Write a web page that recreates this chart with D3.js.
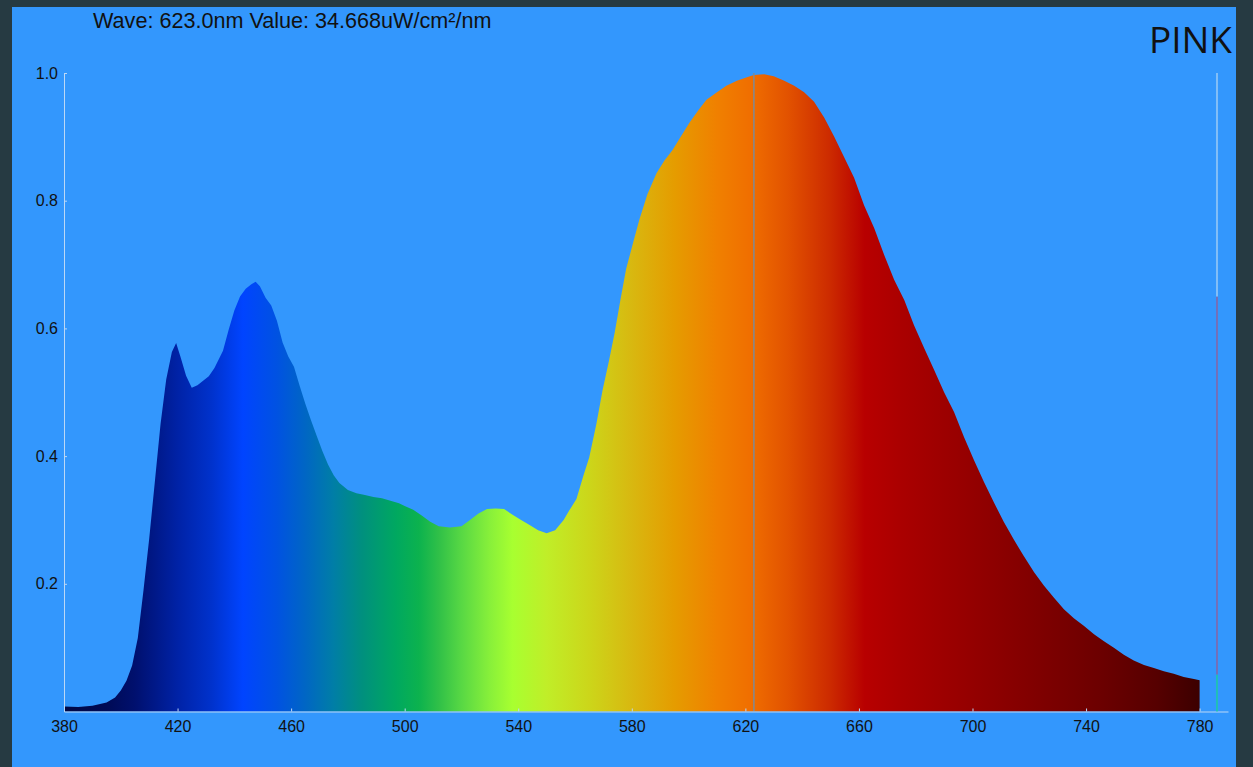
<!DOCTYPE html>
<html>
<head>
<meta charset="utf-8">
<script src="https://cdn.jsdelivr.net/npm/d3@7"></script>
<style>
  html, body { margin: 0; padding: 0; background: #263a42; }
  svg { display: block; }
  .axis text { font-family: "Liberation Sans", Arial, sans-serif; font-size: 16px; fill: #111; }
  .axis path, .axis line { stroke: #bcd8f6; }
</style>
</head>
<body>
<div id="chart"></div>
<script>
// spectrum readings (relative power vs wavelength)
var waveNm = [380, 385, 390, 395, 398, 400, 402, 404, 406, 408, 410, 412, 414, 416, 418, 419.5,
    421, 423, 425, 427, 429, 431, 433, 436, 438, 440, 442, 444, 446, 447.5, 449, 451, 453, 455,
    457, 459, 461, 463, 465, 467, 469, 471, 473, 475, 477, 480, 483, 486, 489, 492, 495, 498,
    500, 503, 506, 509, 512, 516, 520, 523, 526, 529, 532, 535, 538, 541, 544, 547, 550, 553,
    556, 558, 560.5, 563, 565, 567.5, 569.7, 572, 574, 576, 578, 580.5, 582.7, 585.5, 588.7,
    591.5, 594.3, 597.5, 600.3, 603.5, 606.3, 610, 613.3, 617, 620.3, 623, 626.6, 630, 633.7,
    637.2, 640.7, 644.2, 647.8, 651.3, 654.8, 658.3, 661.8, 665.4, 668.9, 672.4, 676, 679.4,
    683, 686.5, 690, 693.5, 697, 700.5, 704, 707.6, 711, 714.6, 718, 721.7, 725.2, 728.7,
    732.2, 735.7, 739.3, 742.8, 746.3, 749.8, 753.3, 756.8, 760.4, 763.9, 767.4, 770.9, 774.4,
    778, 780];
var relValue = [0.008, 0.007, 0.009, 0.014, 0.022, 0.033, 0.048, 0.072, 0.115, 0.19, 0.27, 0.36,
    0.45, 0.52, 0.563, 0.577, 0.556, 0.526, 0.507, 0.511, 0.518, 0.525, 0.538, 0.565, 0.598,
    0.628, 0.65, 0.662, 0.669, 0.673, 0.666, 0.648, 0.636, 0.612, 0.578, 0.556, 0.54, 0.51,
    0.482, 0.456, 0.432, 0.408, 0.387, 0.37, 0.358, 0.347, 0.342, 0.339, 0.336, 0.334, 0.33,
    0.326, 0.322, 0.316, 0.307, 0.297, 0.29, 0.288, 0.29, 0.3, 0.31, 0.317, 0.318, 0.317, 0.308,
    0.3, 0.292, 0.284, 0.279, 0.284, 0.3, 0.315, 0.333, 0.37, 0.398, 0.45, 0.503, 0.55, 0.594,
    0.645, 0.693, 0.735, 0.771, 0.81, 0.843, 0.863, 0.879, 0.902, 0.922, 0.942, 0.958, 0.97,
    0.98, 0.988, 0.993, 0.997, 0.998, 0.995, 0.988, 0.98, 0.97, 0.955, 0.93, 0.9, 0.868, 0.836,
    0.793, 0.757, 0.715, 0.676, 0.644, 0.605, 0.569, 0.535, 0.5, 0.469, 0.43, 0.394, 0.36,
    0.327, 0.297, 0.269, 0.244, 0.218, 0.197, 0.178, 0.16, 0.146, 0.134, 0.121, 0.11, 0.1,
    0.089, 0.08, 0.073, 0.068, 0.063, 0.059, 0.054, 0.051, 0.049];

var xTicks = [380, 420, 460, 500, 540, 580, 620, 660, 700, 740, 780];
var yTicks = [0.2, 0.4, 0.6, 0.8, 1.0];

var cursorWave = 623.0;
var cursorText = "Wave: 623.0nm Value: 34.668uW/cm\u00b2/nm";
var sampleName = "PINK";

// side gauge levels (bottom, split, split, top)
var gaugeLevels = [0, 0.058, 0.65, 1.0];

// colour of the fill along the wavelength axis
var stopNm = [380, 395, 405, 420, 432, 443, 455, 465, 475, 485, 497, 505, 512, 520, 530, 538,
    550, 565, 580, 595, 610, 622, 635, 650, 662, 675, 700, 720, 745, 765, 780];
var stopColor = ["#000844", "#000a55", "#00106e", "#0022a6", "#0032cc", "#0044ff", "#0052e2",
    "#0066c4", "#007ea6", "#00907e", "#00a860", "#0cb24e", "#30c048", "#58d844", "#88f03a",
    "#a8ff30", "#c0ee28", "#ccd61a", "#d8b810", "#e59c00", "#f08000", "#f06e00", "#e25200",
    "#cc2a00", "#b80000", "#aa0000", "#940000", "#820000", "#6c0000", "#560000", "#3c0000"];

var W = 1253, H = 767;

var svg = d3.select("#chart").append("svg")
    .attr("width", W)
    .attr("height", H);

svg.append("rect")
    .attr("x", 12).attr("y", 7)
    .attr("width", 1224).attr("height", H - 7)
    .attr("fill", "#3397fd");

var x = d3.scaleLinear().domain([380, 790]).range([64, 1228]),
    y = d3.scaleLinear().domain([0, 1]).range([711.5, 73]);

var pts = waveNm.map(function (w, i) { return {w: w, v: relValue[i]}; });

var grad = svg.append("defs").append("linearGradient")
    .attr("id", "spec")
    .attr("gradientUnits", "userSpaceOnUse")
    .attr("x1", x(380)).attr("x2", x(780))
    .attr("y1", 0).attr("y2", 0);

grad.selectAll("stop")
    .data(stopNm)
    .enter().append("stop")
    .attr("offset", function (d) { return (d - 380) / 400; })
    .attr("stop-color", function (d, i) { return stopColor[i]; });

var area = d3.area()
    .x(function (d) { return x(d.w); })
    .y0(y(0))
    .y1(function (d) { return y(d.v); });

svg.append("path")
    .datum(pts)
    .attr("fill", "url(#spec)")
    .attr("d", area);

// cursor
svg.append("line")
    .attr("x1", x(cursorWave)).attr("x2", x(cursorWave))
    .attr("y1", y(0)).attr("y2", y(1))
    .attr("stroke", "#7f8a94")
    .attr("stroke-width", 1.5);

svg.append("g")
    .attr("class", "axis axis--x")
    .attr("transform", "translate(0," + y(0) + ")")
    .call(d3.axisBottom(x).tickValues(xTicks).tickSizeInner(-3).tickSizeOuter(0).tickPadding(9));

svg.append("g")
    .attr("class", "axis axis--y")
    .attr("transform", "translate(" + x(380) + ",0)")
    .call(d3.axisLeft(y).tickValues(yTicks).tickFormat(d3.format(".1f"))
        .tickSizeInner(-3).tickSizeOuter(0).tickPadding(6));

// gauge on the right
var gx = x.range()[1] - 11;
var gaugeColor = ["#1cc8a6", "#8466a8", "#96c8f6"];
svg.selectAll(".gauge")
    .data(gaugeColor)
    .enter().append("line")
    .attr("class", "gauge")
    .attr("x1", gx).attr("x2", gx)
    .attr("y1", function (d, i) { return y(gaugeLevels[i]); })
    .attr("y2", function (d, i) { return y(gaugeLevels[i + 1]); })
    .attr("stroke", function (d) { return d; })
    .attr("stroke-width", 1.6);

svg.append("text")
    .attr("x", 93).attr("y", 28)
    .style("font-family", "'Liberation Sans', Arial, sans-serif")
    .style("font-size", "21.6px")
    .attr("fill", "#111")
    .text(cursorText);

svg.append("text")
    .attr("x", 1232).attr("y", 53)
    .attr("text-anchor", "end")
    .style("font-family", "'Open Sans', 'Noto Sans', sans-serif")
    .style("font-size", "37px")
    .attr("fill", "#111")
    .text(sampleName);
</script>
</body>
</html>
